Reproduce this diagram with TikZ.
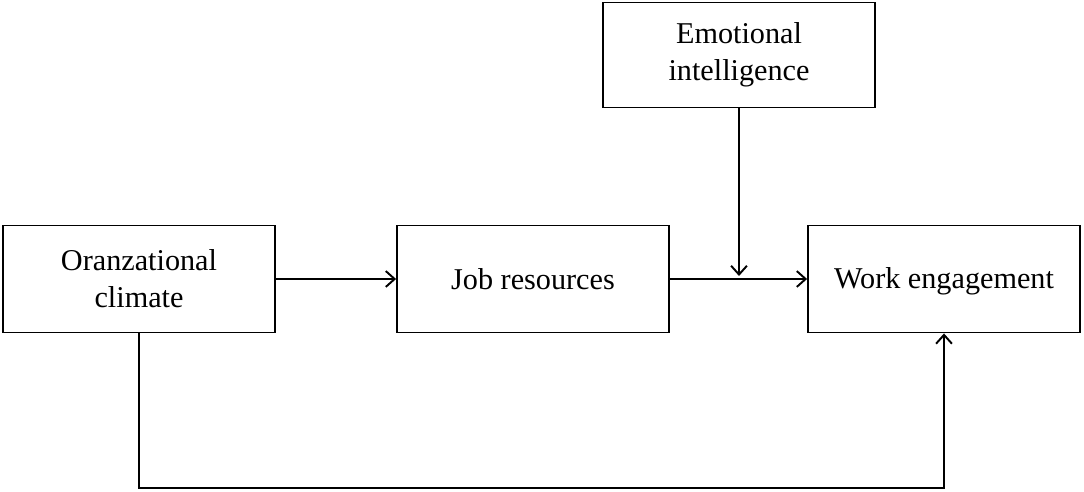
\documentclass[tikz,border=0pt]{standalone}
\usepackage{fontspec}
\setmainfont{Liberation Serif}
\usetikzlibrary{arrows.meta, positioning}

\begin{document}
\begin{tikzpicture}[x=0.02cm, y=-0.02cm,
    box/.style={draw, line width=1.1pt, minimum width=5.44cm, minimum height=2.14cm,
      align=center, font=\fontsize{17.2}{21}\selectfont},
    arr/.style={line width=1.1pt, -{Straight Barb[length=5pt, width=9pt]}}]
        \useasboundingbox (0,0) rectangle (1084,492);
        % Boxes
        \node[box] (climate) at (139, 279) {Oranzational\\climate};
        \node[box] (resources) at (533, 279) {Job resources};
        \node[box, text depth=0.3ex] (engagement) at (944, 279) {Work engagement};
        \node[box, minimum height=2.1cm] (emotion) at (739, 55) {Emotional\\intelligence};
        % Helper points
        \coordinate (meet) at (739, 276);
        \coordinate (bottom) at (139, 488);
        % Paths
        \draw[arr] (climate) -- (resources);
        \draw[arr] (resources) -- (engagement);
        \draw[arr] (emotion) -- (meet);
        \draw[arr] (climate) -- (bottom) -| (engagement);
      \end{tikzpicture}
\end{document}
